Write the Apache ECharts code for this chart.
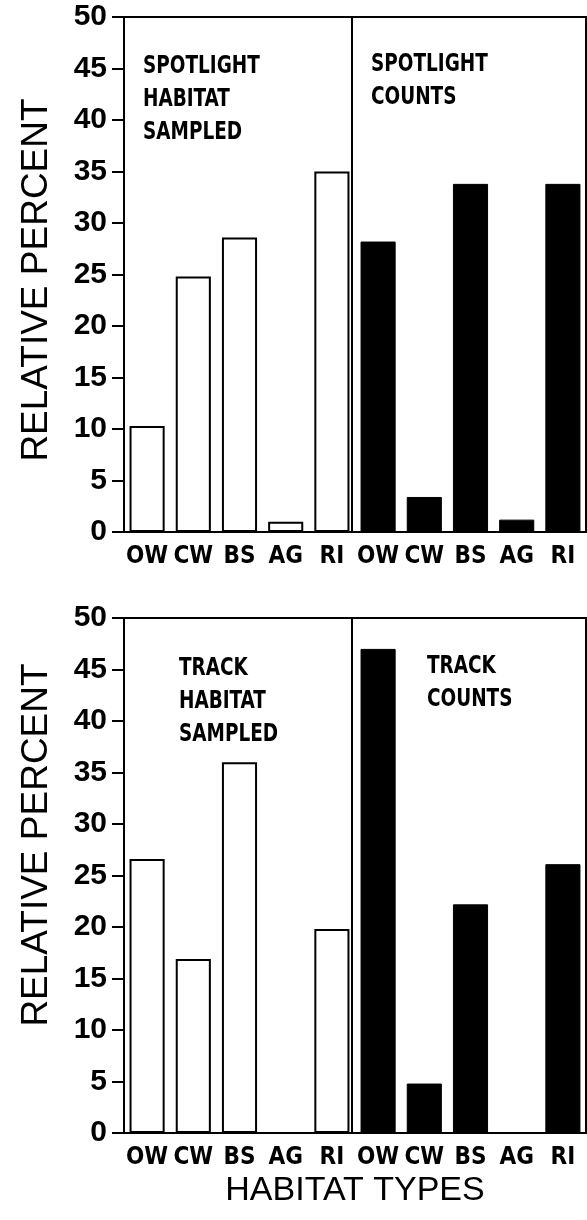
<!DOCTYPE html>
<html>
<head>
<meta charset="utf-8">
<script src="https://cdn.jsdelivr.net/npm/echarts@6/dist/echarts.min.js"></script>
<style>
  html, body { margin: 0; padding: 0; background: #fff; }
  #chart { width: 587px; height: 1220px; }
</style>
</head>
<body>
<div id="chart"></div>
<script>
// habitat categories, repeated for the two halves of each panel
const habitats = ['OW', 'CW', 'BS', 'AG', 'RI']

// relative percent values
const spotHabitat = [10.3, 24.8, 28.6, 1.0, 35.0]
const spotCounts = [28.2, 3.4, 33.8, 1.2, 33.8]
const trackHabitat = [26.6, 16.9, 36.0, 0, 19.8]
const trackCounts = [47.0, 4.8, 22.2, 0, 26.1]

const panelText = [
    ['SPOTLIGHT', 'HABITAT', 'SAMPLED'],
    ['SPOTLIGHT', 'COUNTS'],
    ['TRACK', 'HABITAT', 'SAMPLED'],
    ['TRACK', 'COUNTS']
]

const categories = habitats.concat(habitats)
const blanks = habitats.map(() => '-')

const numFont = '"Liberation Sans", sans-serif'
const boldNarrow = '"Liberation Sans Narrow", "DejaVu Sans Condensed", sans-serif'
const titleFont = '"Liberation Sans", sans-serif'

const grids = [
    { left: 124, right: 1, top: 17, bottom: 688 },
    { left: 124, right: 1, top: 618, bottom: 87 }
]

const makeX = (i) => ({
    type: 'category',
    gridIndex: i,
    data: categories,
    axisLine: { lineStyle: { color: '#000', width: 2 } },
    axisTick: { alignWithLabel: true, length: 6, lineStyle: { color: '#000', width: 2 } },
    axisLabel: {
        interval: 0, margin: 13, color: '#000',
        fontFamily: boldNarrow, fontWeight: 'bold', fontSize: 24
    }
})

const makeY = (i) => ({
    type: 'value',
    gridIndex: i,
    min: 0, max: 50, interval: 5,
    splitLine: { show: false },
    axisLine: { show: true, lineStyle: { color: '#000', width: 2 } },
    axisTick: { show: true, length: 12, lineStyle: { color: '#000', width: 2 } },
    axisLabel: { margin: 17, color: '#000', fontFamily: numFont, fontWeight: 'bold', fontSize: 30 }
})

const whiteBar = (i, vals) => ({
    type: 'bar',
    xAxisIndex: i, yAxisIndex: i,
    data: vals.concat(blanks),
    barCategoryGap: '24%',
    barGap: '-100%',
    itemStyle: { color: '#fff', borderColor: '#000', borderWidth: 2 },
    silent: true
})

const blackBar = (i, vals) => ({
    type: 'bar',
    xAxisIndex: i, yAxisIndex: i,
    data: blanks.concat(vals),
    barCategoryGap: '24%',
    barGap: '-100%',
    itemStyle: { color: '#000', borderColor: '#000', borderWidth: 1 },
    silent: true
})

const textBlock = (lines, x, y) => ({
    type: 'text',
    x: x, y: y,
    scaleX: 0.82,
    style: {
        text: lines.join('\n'),
        font: 'bold 25px ' + boldNarrow,
        lineHeight: 33,
        fill: '#000'
    }
})

const vertTitle = (txt, cy) => ({
    type: 'text',
    x: 37, y: cy,
    rotation: Math.PI / 2,
    style: {
        text: txt,
        font: '37px ' + titleFont,
        fill: '#000',
        align: 'center',
        verticalAlign: 'middle'
    }
})

let myChart = echarts.init(document.getElementById('chart'))

let option = {
    animation: false,
    backgroundColor: '#fff',
    grid: grids.map(g => Object.assign({ show: true, borderColor: '#000', borderWidth: 2 }, g)),
    xAxis: [makeX(0), makeX(1)],
    yAxis: [makeY(0), makeY(1)],
    series: [
        whiteBar(0, spotHabitat), blackBar(0, spotCounts),
        whiteBar(1, trackHabitat), blackBar(1, trackCounts)
    ],
    graphic: [
        textBlock(panelText[0], 143, 50),
        textBlock(panelText[1], 371, 48),
        textBlock(panelText[2], 179, 652),
        textBlock(panelText[3], 427, 650),
        vertTitle('RELATIVE PERCENT', 280),
        vertTitle('RELATIVE PERCENT', 845),
        {
            type: 'text',
            x: 355, y: 1191,
            style: {
                text: 'HABITAT TYPES',
                font: '34px ' + titleFont,
                fill: '#000',
                align: 'center',
                verticalAlign: 'middle'
            }
        }
    ]
}

myChart.setOption(option)

// divider between the "sampled" and "counts" halves, placed at the category boundary
const dividers = [0, 1].map(i => {
    const a = myChart.convertToPixel({ xAxisIndex: i, yAxisIndex: i }, [4, 0])
    const b = myChart.convertToPixel({ xAxisIndex: i, yAxisIndex: i }, [5, 50])
    const x = Math.round((a[0] + b[0]) / 2) - 3
    return {
        type: 'line',
        shape: { x1: x, y1: a[1], x2: x, y2: b[1] },
        style: { stroke: '#000', lineWidth: 2 },
        z: 10
    }
})
myChart.setOption({ graphic: option.graphic.concat(dividers) })
</script>
</body>
</html>
